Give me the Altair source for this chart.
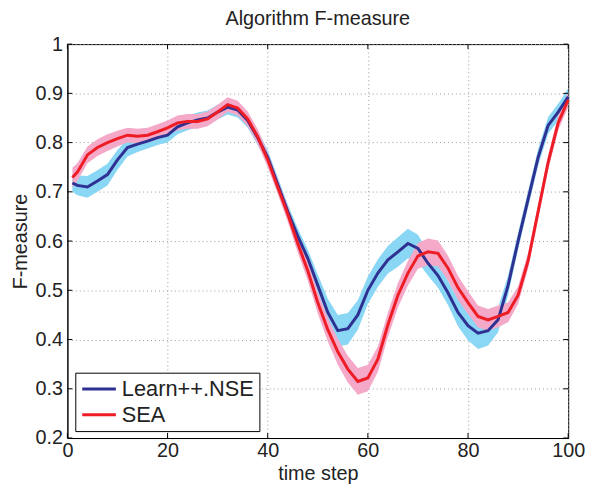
import altair as alt
import pandas as pd

x_steps = [1, 2, 4, 6, 8, 10, 12, 14, 16, 18, 20, 22, 24, 26, 28, 30, 32, 34, 36, 38, 40,
           42, 44, 46, 48, 50, 52, 54, 56, 58, 60, 62, 64, 66, 68, 70, 72, 74, 76, 78, 80,
           82, 84, 86, 88, 90, 92, 94, 96, 98, 100]

nse_mean = [0.718, 0.713, 0.710, 0.722, 0.735, 0.765, 0.790, 0.797, 0.803, 0.810, 0.815,
            0.832, 0.840, 0.846, 0.850, 0.862, 0.872, 0.866, 0.845, 0.810, 0.770,
            0.715, 0.660, 0.610, 0.565, 0.510, 0.455, 0.418, 0.422, 0.450, 0.500,
            0.535, 0.562, 0.578, 0.595, 0.585, 0.555, 0.530, 0.495, 0.455, 0.428,
            0.413, 0.418, 0.440, 0.510, 0.600, 0.685, 0.770, 0.835, 0.862, 0.893]

sea_mean = [0.729, 0.740, 0.775, 0.790, 0.800, 0.808, 0.815, 0.813, 0.815, 0.822, 0.830,
            0.840, 0.843, 0.843, 0.848, 0.862, 0.877, 0.870, 0.848, 0.812, 0.765,
            0.710, 0.655, 0.595, 0.540, 0.475, 0.420, 0.375, 0.340, 0.315, 0.322,
            0.360, 0.430, 0.490, 0.535, 0.570, 0.578, 0.575, 0.545, 0.505, 0.475,
            0.447, 0.440, 0.447, 0.455, 0.490, 0.560, 0.660, 0.760, 0.840, 0.887]

nse_spread = [0.018, 0.020, 0.022, 0.022, 0.022, 0.020, 0.018, 0.016, 0.015, 0.015, 0.015,
              0.015, 0.015, 0.015, 0.015, 0.015, 0.015, 0.015, 0.015, 0.015, 0.015,
              0.015, 0.015, 0.016, 0.018, 0.022, 0.028, 0.032, 0.032, 0.030, 0.028,
              0.028, 0.028, 0.030, 0.030, 0.028, 0.025, 0.025, 0.025, 0.028, 0.030,
              0.032, 0.030, 0.025, 0.020, 0.017, 0.017, 0.017, 0.017, 0.017, 0.017]

sea_spread = [0.020, 0.018, 0.017, 0.017, 0.017, 0.016, 0.015, 0.015, 0.015, 0.015, 0.015,
              0.015, 0.015, 0.015, 0.015, 0.015, 0.015, 0.015, 0.015, 0.015, 0.015,
              0.015, 0.016, 0.018, 0.020, 0.022, 0.024, 0.026, 0.027, 0.027, 0.027,
              0.026, 0.025, 0.025, 0.025, 0.026, 0.027, 0.026, 0.025, 0.024, 0.023,
              0.022, 0.022, 0.022, 0.020, 0.018, 0.016, 0.015, 0.015, 0.015, 0.015]

series_names = ["Learn++.NSE", "SEA"]
line_colors = ["#2e3192", "#ee1c25"]
band_colors = ["#8ad6f5", "#f4a9c9"]

x_ticks = [0, 20, 40, 60, 80, 100]
y_ticks = [0.2, 0.3, 0.4, 0.5, 0.6, 0.7, 0.8, 0.9, 1.0]

rows = []
for name, means, spreads in [(series_names[0], nse_mean, nse_spread),
                             (series_names[1], sea_mean, sea_spread)]:
    for xv, m, s in zip(x_steps, means, spreads):
        rows.append({"series": name, "t": xv, "f": m, "lo": m - s, "hi": m + s})
df = pd.DataFrame(rows)

W, H = 506, 398
FONT = "Liberation Sans"

xscale = alt.Scale(domain=[0, 100], nice=False)
yscale = alt.Scale(domain=[0.2, 1.0], nice=False)

common = dict(grid=True, ticks=False, labelFlush=False, labelBound=False,
              labelFont=FONT, titleFont=FONT, labelFontSize=20, titleFontSize=20,
              labelColor="#222222", titleColor="#222222", titleFontWeight="normal",
              domainColor="black", gridColor="#9a9a9a", gridDash=[1, 3], gridWidth=1)
xaxis = alt.Axis(values=x_ticks, title="time step", labelPadding=3, titlePadding=3,
                 format="d", **common)
yaxis = alt.Axis(values=y_ticks, title="F-measure", labelPadding=5, titlePadding=4,
                 format="~g", **common)

base = alt.Chart(df)

band_nse = base.transform_filter(alt.datum.series == series_names[0]).mark_area(
    color=band_colors[0], opacity=1).encode(
    x=alt.X("t:Q", scale=xscale, axis=xaxis),
    y=alt.Y("lo:Q", scale=yscale, axis=yaxis),
    y2="hi:Q")

band_sea = base.transform_filter(alt.datum.series == series_names[1]).mark_area(
    color=band_colors[1], opacity=1).encode(
    x=alt.X("t:Q", scale=xscale),
    y=alt.Y("lo:Q", scale=yscale),
    y2="hi:Q")

lines = base.mark_line(strokeWidth=3).encode(
    x=alt.X("t:Q", scale=xscale),
    y=alt.Y("f:Q", scale=yscale),
    color=alt.Color("series:N",
                    scale=alt.Scale(domain=series_names, range=line_colors),
                    legend=alt.Legend(title=None, orient="none", legendX=8, legendY=332,
                                      symbolType="M-1.7,0H1.7", symbolStrokeWidth=3,
                                      symbolSize=400, labelFontSize=22, labelFont=FONT,
                                      labelColor="#222222", strokeColor="black",
                                      fillColor="white", padding=5, rowPadding=3,
                                      symbolOffset=7.5, labelOffset=11.5, cornerRadius=0)),
    order=alt.Order("t:Q"))

xt = pd.DataFrame({"v": x_ticks})
yt = pd.DataFrame({"v": y_ticks})
tick_bottom = alt.Chart(xt).mark_rule(color="black").encode(
    x=alt.X("v:Q", scale=xscale), y=alt.value(H), y2=alt.value(H - 5))
tick_top = alt.Chart(xt).mark_rule(color="black").encode(
    x=alt.X("v:Q", scale=xscale), y=alt.value(0), y2=alt.value(5))
tick_left = alt.Chart(yt).mark_rule(color="black").encode(
    y=alt.Y("v:Q", scale=yscale), x=alt.value(0), x2=alt.value(5))
tick_right = alt.Chart(yt).mark_rule(color="black").encode(
    y=alt.Y("v:Q", scale=yscale), x=alt.value(W), x2=alt.value(W - 5))

chart = alt.layer(band_nse, band_sea, lines, tick_bottom, tick_top, tick_left, tick_right).properties(
    width=W, height=H,
    background="white",
    title=alt.TitleParams("Algorithm F-measure", fontSize=20, fontWeight="normal",
                          font=FONT, color="#222222", anchor="middle", offset=5),
    autosize=alt.AutoSizeParams(type="none"),
    padding={"left": 60, "top": 34, "right": 18, "bottom": 47},
).configure_view(stroke="black", strokeWidth=1)

chart.save("out.html", embed_options={"renderer": "svg", "actions": False})
